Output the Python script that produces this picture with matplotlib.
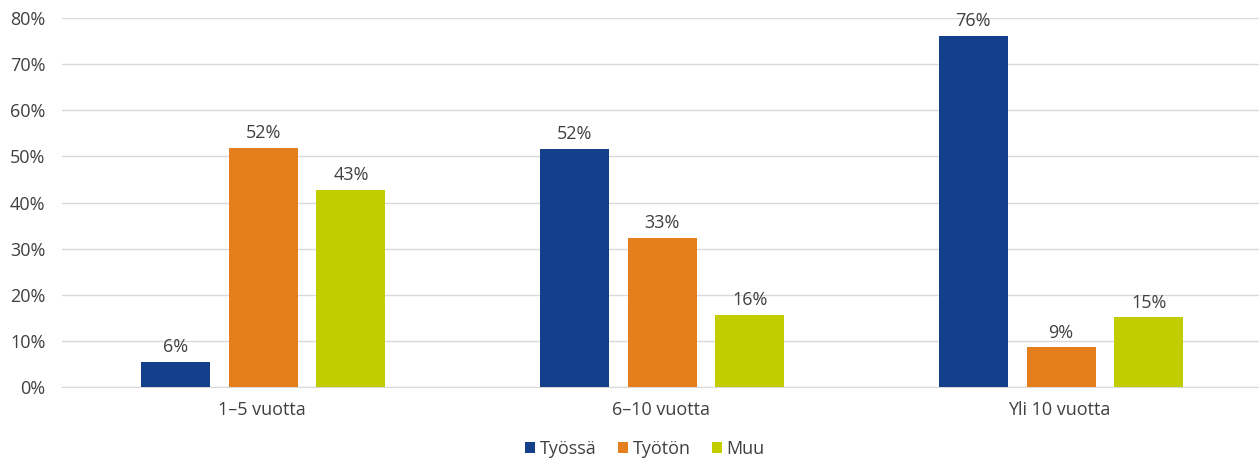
import matplotlib
matplotlib.use("Agg")
import matplotlib.pyplot as plt
import numpy as np

categories = ["1–5 vuotta", "6–10 vuotta", "Yli 10 vuotta"]
series_names = ["Työssä", "Työtön", "Muu"]
tyossa = [5.5, 51.7, 76.2]
tyoton = [51.9, 32.4, 8.6]
muu = [42.7, 15.7, 15.1]
labels_tyossa = ["6%", "52%", "76%"]
labels_tyoton = ["52%", "33%", "9%"]
labels_muu = ["43%", "16%", "15%"]
colors = ["#133F8B", "#E57F1D", "#C2CD00"]
yticks = [0, 10, 20, 30, 40, 50, 60, 70, 80]

plt.rcParams['font.family'] = ['Open Sans', 'DejaVu Sans']
text_color = "#404040"
fs = 13

fig = plt.figure(figsize=(12.59, 4.62), dpi=100)
ax = fig.add_axes([62/1259, 75/462, 1197/1259, 369/462])

x = np.arange(len(categories))
width = 0.1725
step = 0.22
all_vals = [tyossa, tyoton, muu]
all_labels = [labels_tyossa, labels_tyoton, labels_muu]
for i, (vals, labs, name, c) in enumerate(zip(all_vals, all_labels, series_names, colors)):
    bars = ax.bar(x + (i - 1) * step + 0.004, vals, width, color=c, label=name, zorder=3)
    for b, lab in zip(bars, labs):
        ax.annotate(lab, (b.get_x() + b.get_width() / 2, b.get_height()),
                    xytext=(0, 4), textcoords="offset points", ha="center", va="bottom",
                    fontsize=fs, color=text_color)

ax.set_xlim(-0.5, 2.5)
ax.set_ylim(0, 80)
ax.set_yticks(yticks)
ax.set_yticklabels([f"{t}%" for t in yticks])
ax.set_xticks(x)
ax.set_xticklabels(categories)
ax.tick_params(axis='both', length=0, labelsize=fs, colors=text_color)
ax.tick_params(axis='y', pad=12)
ax.tick_params(axis='x', pad=10)
ax.grid(axis='y', color="#D9D9D9", linewidth=1, zorder=0)
for s in ["top", "right", "left"]:
    ax.spines[s].set_visible(False)
ax.spines["bottom"].set_color("#D9D9D9")

leg = fig.legend(loc="center", bbox_to_anchor=(645/1259, 1 - 449/462), ncol=3, frameon=False,
                 fontsize=fs, handlelength=0.55, handleheight=0.55, handletextpad=0.25,
                 columnspacing=1.2)
for t in leg.get_texts():
    t.set_color(text_color)

fig.savefig("out.png", dpi=100)
